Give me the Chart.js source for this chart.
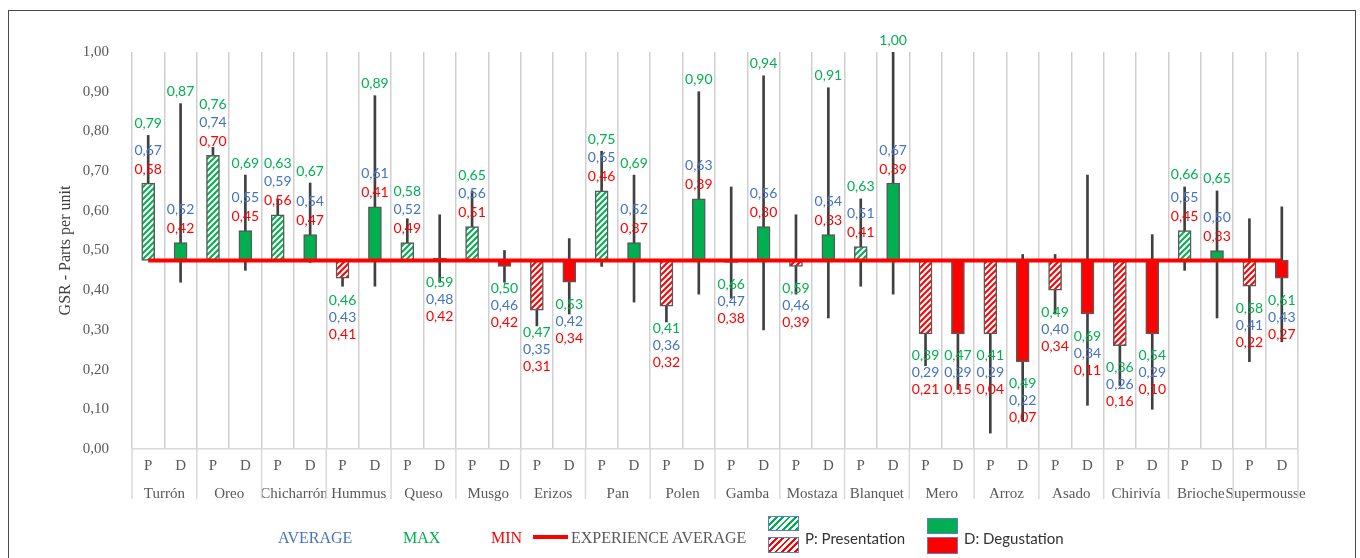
<!DOCTYPE html>
<html>
<head>
<meta charset="utf-8">
<script src="https://cdn.jsdelivr.net/npm/chart.js@4.4.1/dist/chart.umd.min.js"></script>
<style>
  body { margin: 0; background: #fff; }
  #wrap { position: relative; width: 1360px; height: 558px; overflow: hidden; }
  #frame { position: absolute; left: 8px; top: 10px; width: 1346px; height: 600px; border: 1.5px solid #4a4a4a; }
  #chart { position: absolute; left: 0; top: 0; }
  .lg { position: absolute; top: 529px; font: 16px "Liberation Serif", serif; line-height: 18px; white-space: nowrap; }
  .sans { font: 15px Lato, "Noto Sans", sans-serif; color: #333; }
  .box { position: absolute; width: 29px; border: 1px solid #5b7fbf; }
  .hg { background: repeating-linear-gradient(135deg, #00B050 0 2px, #fff 2px 4.5px); }
  .hr { background: repeating-linear-gradient(135deg, #FF0000 0 2px, #fff 2px 4.5px); }
</style>
</head>
<body>
<div id="wrap">
  <div id="frame"></div>
  <canvas id="chart" width="1360" height="558"></canvas>
  <div class="lg" style="left:278px;color:#4472C4">AVERAGE</div>
  <div class="lg" style="left:403px;color:#00B050">MAX</div>
  <div class="lg" style="left:491px;color:#FF0000">MIN</div>
  <div style="position:absolute;left:533px;top:535px;width:35px;height:4px;background:#FF0000"></div>
  <div class="lg" style="left:571px;color:#595959">EXPERIENCE AVERAGE</div>
  <div class="box hg" style="left:768px;top:516px;height:13px"></div>
  <div class="box hr" style="left:768px;top:537px;height:14px"></div>
  <div class="lg sans" style="left:805px">P: Presentation</div>
  <div class="box" style="left:927px;top:518px;height:14px;background:#00B050"></div>
  <div class="box" style="left:927px;top:537px;height:15px;background:#FF0000"></div>
  <div class="lg sans" style="left:964px">D: Degustation</div>
</div>
<script>
// Foods tested
const categories = ["Turrón", "Oreo", "Chicharrón", "Hummus", "Queso", "Musgo", "Erizos", "Pan", "Polen",
  "Gamba", "Mostaza", "Blanquet", "Mero", "Arroz", "Asado", "Chirivía", "Brioche", "Supermousse"];

// P: Presentation
const presAvg = [0.67, 0.74, 0.59, 0.43, 0.52, 0.56, 0.35, 0.65, 0.36, 0.47, 0.46, 0.51, 0.29, 0.29, 0.40, 0.26, 0.55, 0.41];
const presMax = [0.79, 0.76, 0.63, 0.46, 0.58, 0.65, 0.47, 0.75, 0.41, 0.66, 0.59, 0.63, 0.39, 0.41, 0.49, 0.36, 0.66, 0.58];
const presMin = [0.58, 0.70, 0.56, 0.41, 0.49, 0.51, 0.31, 0.46, 0.32, 0.38, 0.39, 0.41, 0.21, 0.04, 0.34, 0.16, 0.45, 0.22];

// D: Degustation
const degAvg = [0.52, 0.55, 0.54, 0.61, 0.48, 0.46, 0.42, 0.52, 0.63, 0.56, 0.54, 0.67, 0.29, 0.22, 0.34, 0.29, 0.50, 0.43];
const degMax = [0.87, 0.69, 0.67, 0.89, 0.59, 0.50, 0.53, 0.69, 0.90, 0.94, 0.91, 1.00, 0.47, 0.49, 0.69, 0.54, 0.65, 0.61];
const degMin = [0.42, 0.45, 0.47, 0.41, 0.42, 0.42, 0.34, 0.37, 0.39, 0.30, 0.33, 0.39, 0.15, 0.07, 0.11, 0.10, 0.33, 0.27];

const experienceAverage = 0.475;
const phaseLabels = ["P", "D"];
const yTicks = [0, 0.1, 0.2, 0.3, 0.4, 0.5, 0.6, 0.7, 0.8, 0.9, 1.0];

// one column per P / D bar
const colLabels = [], colAvg = [], colMax = [], colMin = [], colIsP = [];
categories.forEach((c, i) => {
  colLabels.push(phaseLabels[0], phaseLabels[1]);
  colAvg.push(presAvg[i], degAvg[i]);
  colMax.push(presMax[i], degMax[i]);
  colMin.push(presMin[i], degMin[i]);
  colIsP.push(true, false);
});

const GREEN = "#00B050", RED = "#FF0000", BLUE = "#4472C4", GREY = "#595959";

function hatch(color) {
  const c = document.createElement("canvas");
  c.width = 6; c.height = 6;
  const g = c.getContext("2d");
  g.fillStyle = "#fff";
  g.fillRect(0, 0, 6, 6);
  g.strokeStyle = color;
  g.lineWidth = 2;
  [[-3, 3, 3, -3], [0, 6, 6, 0], [3, 9, 9, 3]].forEach(([a, b, d, e]) => {
    g.beginPath(); g.moveTo(a, b); g.lineTo(d, e); g.stroke();
  });
  return g.createPattern(c, "repeat");
}
const greenHatch = hatch(GREEN), redHatch = hatch(RED);

const barColors = colAvg.map((v, i) => {
  const up = v >= experienceAverage;
  if (colIsP[i]) return up ? greenHatch : redHatch;
  return up ? GREEN : RED;
});

const fmt = v => v.toFixed(2).replace(".", ",");

// green / blue / red value labels beside each bar
const valueLabels = {
  id: "valueLabels",
  afterDatasetsDraw(chart) {
    const { ctx, scales: { x, y } } = chart;
    ctx.save();
    ctx.font = '14px Lato';
    ctx.textAlign = "center";
    ctx.textBaseline = "middle";
    colAvg.forEach((avg, i) => {
      const px = x.getPixelForValue(i);
      let yG, yB, yR;
      if (avg > 0.49) {
        yR = y.getPixelForValue(avg) - 14;
        yB = yR - 19;
        yG = Math.min(yB - 18, y.getPixelForValue(colMax[i]) - 12);
      } else {
        yG = y.getPixelForValue(Math.min(avg, experienceAverage)) + 22;
        yB = yG + 17;
        yR = yB + 17;
      }
      ctx.fillStyle = GREEN; ctx.fillText(fmt(colMax[i]), px, yG);
      ctx.fillStyle = BLUE; ctx.fillText(fmt(avg), px, yB);
      ctx.fillStyle = RED; ctx.fillText(fmt(colMin[i]), px, yR);
    });
    ctx.restore();
  }
};

// dividers between food groups under the axis
const groupDividers = {
  id: "groupDividers",
  afterDraw(chart) {
    const { ctx, chartArea, scales: { x } } = chart;
    const half = (x.getPixelForValue(1) - x.getPixelForValue(0)) / 2;
    ctx.save();
    ctx.strokeStyle = "#d9d9d9";
    ctx.lineWidth = 1.5;
    for (let k = 0; k <= categories.length; k++) {
      const xb = k < categories.length ? x.getPixelForValue(2 * k) - half : x.getPixelForValue(2 * k - 1) + half;
      ctx.beginPath();
      ctx.moveTo(xb, chartArea.bottom);
      ctx.lineTo(xb, chartArea.bottom + 50);
      ctx.stroke();
    }
    ctx.restore();
  }
};

const serif = { family: "Liberation Serif", size: 15 };

new Chart(document.getElementById("chart"), {
  data: {
    labels: colLabels,
    datasets: [
      {
        type: "line",
        label: "EXPERIENCE AVERAGE",
        data: colLabels.map(() => experienceAverage),
        borderColor: RED,
        borderWidth: 4,
        pointRadius: 0,
        order: 0
      },
      {
        type: "bar",
        label: "AVERAGE",
        data: colAvg.map(v => [experienceAverage, v]),
        backgroundColor: barColors,
        borderColor: GREY,
        borderWidth: 1.5,
        borderSkipped: false,
        barThickness: 13,
        grouped: false,
        order: 1
      },
      {
        type: "bar",
        label: "MIN-MAX",
        data: colMin.map((v, i) => [v, colMax[i]]),
        backgroundColor: "#404040",
        barThickness: 2,
        grouped: false,
        order: 2
      }
    ]
  },
  options: {
    responsive: false,
    animation: false,
    layout: { padding: { left: 0, right: 62, top: 52, bottom: 51 } },
    plugins: { legend: { display: false }, tooltip: { enabled: false } },
    scales: {
      x: {
        type: "category",
        offset: true,
        weight: 0,
        grid: { color: "#cfcfcf", lineWidth: 1.5, offset: true, drawTicks: false },
        border: { color: "#d9d9d9", width: 1.5 },
        ticks: { font: serif, color: GREY, padding: 8, autoSkip: false, maxRotation: 0 },
        afterFit: s => { s.height = 28; }
      },
      xc: {
        type: "category",
        labels: categories,
        position: "bottom",
        offset: true,
        weight: 1,
        grid: { display: false },
        border: { display: false },
        ticks: { font: serif, color: GREY, padding: 0, autoSkip: false, maxRotation: 0 },
        afterFit: s => { s.height = 30; }
      },
      y: {
        min: 0,
        max: 1,
        grid: { display: false },
        border: { display: false },
        afterBuildTicks: s => { s.ticks = yTicks.map(v => ({ value: v })); },
        ticks: { font: serif, color: GREY, padding: 15, callback: v => fmt(v) },
        title: {
          display: true,
          text: "GSR - Parts per unit",
          font: { family: "Liberation Serif", size: 16 },
          color: "#404040",
          padding: { top: 56, bottom: 0 }
        },
        afterFit: s => { s.width = 132; }
      }
    }
  },
  plugins: [valueLabels, groupDividers]
});
</script>
</body>
</html>
